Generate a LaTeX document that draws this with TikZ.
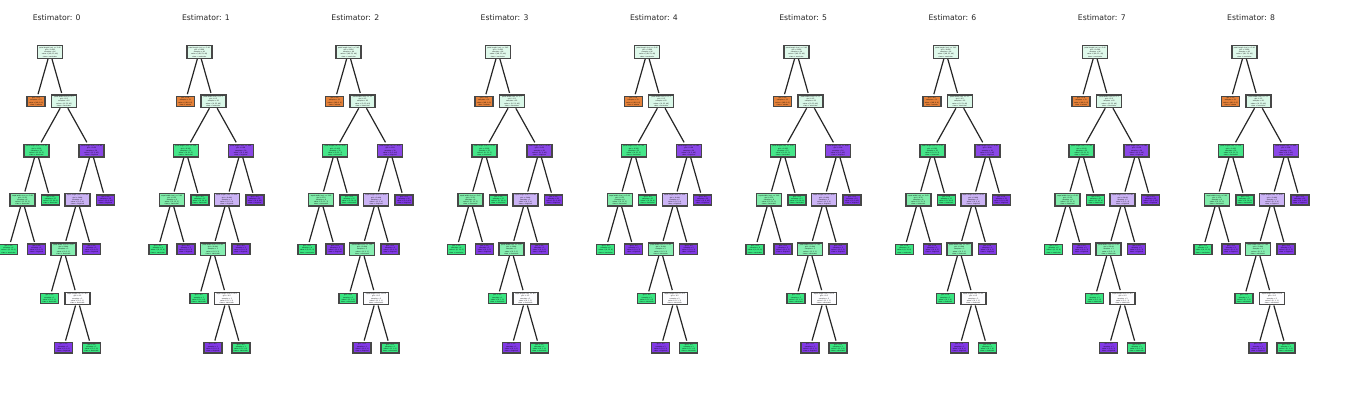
\documentclass[tikz,border=0pt]{standalone}
\usepackage{fontspec}
\setmainfont{DejaVu Sans}

\definecolor{setosa}{HTML}{E58139}
\definecolor{versi}{HTML}{39E581}
\definecolor{virgi}{HTML}{8139E5}
\definecolor{mint}{HTML}{DFF9EB}
\definecolor{mintb}{HTML}{D9F8E8}
\definecolor{greenb}{HTML}{45E689}
\definecolor{purpleb}{HTML}{8A47E7}
\definecolor{lgreen}{HTML}{80ECAA}
\definecolor{lavender}{HTML}{CBB3F5}
\definecolor{lgreenb}{HTML}{86EEB1}
\definecolor{pale}{HTML}{FDFDFF}

\tikzstyle{test} = [rectangle, draw=black!72, line width=1.4pt, align=center, inner sep=1pt,
	font=\fontsize{1.6}{2.2}\selectfont, minimum width=25pt, minimum height=12.5pt]
\tikzstyle{leaf} = [test, minimum width=18pt, minimum height=10pt]
\tikzstyle{title} = [font=\fontsize{7.7}{9}\selectfont, text=black!85]

\begin{document}
\begin{tikzpicture}[level distance=49.3pt, sibling distance=28pt,
	level 2/.style={sibling distance=55pt},
	level 3/.style={sibling distance=28pt},
	edge from parent/.style={draw, black!85, line width=1.2pt, shorten >=1.5pt}]
\useasboundingbox[fill=white] (0,0) rectangle (1357pt,-400pt);
\foreach \k in {0,...,8}{
\node[title] (h\k) at ({(56.7+149.3*\k)*1pt},-17.5pt) {Estimator: \k};
\node[test, fill=mint] (r\k) at ({(50+149.3*\k)*1pt},-52pt)
	{petal length (cm) <= 2.45\\gini = 0.666\\samples = 96\\value = [48, 53, 49]\\class = versicolor}
child {node[leaf, fill=setosa] (a\k)
	{gini = 0.0\\samples = 31\\value = [48, 0, 0]\\class = setosa}}
child {node[test, fill=mintb] (b\k)
	{petal width (cm) <= 1.7\\gini = 0.5\\samples = 65\\value = [0, 53, 49]\\class = versicolor}
	child {node[test, fill=greenb] (c\k)
		{petal length (cm) <= 5.05\\gini = 0.105\\samples = 35\\value = [0, 51, 3]\\class = versicolor}
		child {node[test, fill=lgreen] (d\k)
			{sepal width (cm) <= 2.65\\gini = 0.32\\samples = 8\\value = [0, 12, 3]\\class = versicolor}
			child {node[leaf, fill=versi] (d\k a)
				{gini = 0.0\\samples = 6\\value = [0, 12, 0]\\class = versicolor}}
			child {node[leaf, fill=virgi] (d\k b)
				{gini = 0.0\\samples = 2\\value = [0, 0, 3]\\class = virginica}}
		}
		child {node[leaf, fill=versi] (e\k)
			{gini = 0.0\\samples = 27\\value = [0, 39, 0]\\class = versicolor}}
	}
	child {node[test, fill=purpleb] (f\k)
		{petal length (cm) <= 4.85\\gini = 0.08\\samples = 30\\value = [0, 2, 46]\\class = virginica}
		child {node[test, fill=lavender] (g\k)
			{sepal length (cm) <= 6.05\\gini = 0.444\\samples = 5\\value = [0, 2, 4]\\class = virginica}
			child {node[test, fill=lgreenb] (i\k)
				{petal width (cm) <= 1.65\\gini = 0.444\\samples = 3\\value = [0, 2, 1]\\class = versicolor}
				child {node[leaf, fill=versi] (k\k)
					{gini = 0.0\\samples = 1\\value = [0, 1, 0]\\class = versicolor}}
				child {node[test, fill=pale] (l\k)
					{sepal length (cm) <= 6.5\\gini = 0.5\\samples = 2\\value = [0, 1, 1]\\class = versicolor}
					child {node[leaf, fill=virgi] (l\k a)
						{gini = 0.0\\samples = 1\\value = [0, 0, 1]\\class = virginica}}
					child {node[leaf, fill=versi] (l\k b)
						{gini = 0.0\\samples = 1\\value = [0, 1, 0]\\class = versicolor}}
				}
			}
			child {node[leaf, fill=virgi] (j\k)
				{gini = 0.0\\samples = 2\\value = [0, 0, 3]\\class = virginica}}
		}
		child {node[leaf, fill=virgi] (h\k b)
			{gini = 0.0\\samples = 25\\value = [0, 0, 42]\\class = virginica}}
	}
};
}
\end{tikzpicture}
\end{document}
